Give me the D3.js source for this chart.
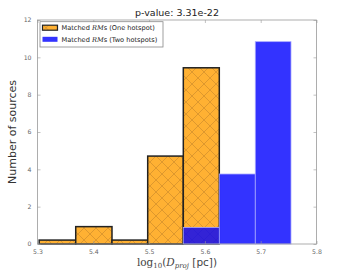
<!DOCTYPE html>
<html>
<head>
<meta charset="utf-8">
<script src="https://cdn.jsdelivr.net/npm/d3@7"></script>
<style>
body { margin: 0; background: #fff; }
text { font-family: "DejaVu Sans", sans-serif; }
</style>
</head>
<body>
<div id="chart"></div>
<script>
"use strict";

const W = 353, H = 271;
const M = { left: 37.5, right: 36.5, top: 20, bottom: 27 };

// histogram bins (log10 D_proj)
const binEdges = [5.303, 5.3685, 5.4335, 5.4975, 5.5613, 5.6258, 5.6903, 5.7543];
const oneHotspot = [0.21, 0.93, 0.21, 4.71, 9.44, 0, 0];
const twoHotspots = [0, 0, 0, 0, 0.89, 3.75, 10.84];
const xTicks = [5.3, 5.4, 5.5, 5.6, 5.7, 5.8];
const yTicks = [0, 2, 4, 6, 8, 10, 12];

const svg = d3.select("#chart").append("svg")
    .attr("width", W)
    .attr("height", H);

const defs = svg.append("defs");
const hatch = defs.append("pattern")
    .attr("id", "xhatch")
    .attr("patternUnits", "userSpaceOnUse")
    .attr("width", 12)
    .attr("height", 12);
hatch.append("rect").attr("width", 12).attr("height", 12).attr("fill", "#ffb133");
hatch.append("path")
    .attr("d", "M0,0L12,12M12,0L0,12M-6,6L0,12M6,-6L12,0M6,18L12,12M-6,6L0,0")
    .attr("stroke", "#c8882a")
    .attr("stroke-width", 0.6);

const x = d3.scaleLinear().domain([5.3, 5.8]).range([M.left, W - M.right]);
const y = d3.scaleLinear().domain([0, 12]).range([H - M.bottom, M.top]);

const bins = d3.range(oneHotspot.length).map(i => ({
    x0: binEdges[i], x1: binEdges[i + 1], a: oneHotspot[i], b: twoHotspots[i]
}));

svg.selectAll(".one").data(bins.filter(d => d.a > 0)).join("rect")
    .attr("class", "one")
    .attr("x", d => x(d.x0))
    .attr("width", d => x(d.x1) - x(d.x0))
    .attr("y", d => y(d.a))
    .attr("height", d => y(0) - y(d.a))
    .attr("fill", "url(#xhatch)")
    .attr("stroke", "#222")
    .attr("stroke-width", 1.5);

svg.selectAll(".two").data(bins.filter(d => d.b > 0)).join("rect")
    .attr("class", "two")
    .attr("x", d => x(d.x0))
    .attr("width", d => x(d.x1) - x(d.x0))
    .attr("y", d => y(d.b))
    .attr("height", d => y(0) - y(d.b))
    .attr("fill", "#0000ff")
    .attr("fill-opacity", 0.8)
    .attr("stroke", "#aaaaff")
    .attr("stroke-width", 0.8);

// frame
svg.append("rect")
    .attr("x", M.left).attr("y", M.top)
    .attr("width", W - M.left - M.right)
    .attr("height", H - M.top - M.bottom)
    .attr("fill", "none")
    .attr("stroke", "#999")
    .attr("stroke-width", 0.8);

function styleAxis(g) {
    g.select(".domain").remove();
    g.selectAll(".tick line").attr("stroke", "#999").attr("stroke-width", 0.6);
    g.selectAll(".tick text").attr("fill", "#666").attr("font-size", 6.2)
        .attr("font-family", "DejaVu Sans, sans-serif");
}

svg.append("g")
    .attr("transform", `translate(0,${H - M.bottom})`)
    .call(d3.axisBottom(x).tickValues(xTicks).tickFormat(d3.format(".1f")).tickSize(-3).tickPadding(6))
    .call(styleAxis);
svg.append("g")
    .attr("transform", `translate(0,${M.top})`)
    .call(d3.axisTop(x).tickValues(xTicks).tickFormat("").tickSize(-3))
    .call(styleAxis);
svg.append("g")
    .attr("transform", `translate(${M.left},0)`)
    .call(d3.axisLeft(y).tickValues(yTicks).tickSize(-3).tickPadding(6))
    .call(styleAxis);
svg.append("g")
    .attr("transform", `translate(${W - M.right},0)`)
    .call(d3.axisRight(y).tickValues(yTicks).tickFormat("").tickSize(-3))
    .call(styleAxis);

// title
svg.append("text")
    .attr("x", (M.left + W - M.right) / 2)
    .attr("y", 16)
    .attr("text-anchor", "middle")
    .attr("font-size", 9.5)
    .attr("fill", "#222")
    .text("p-value: 3.31e-22");

// y label
svg.append("text")
    .attr("transform", `translate(16,${(M.top + H - M.bottom) / 2}) rotate(-90)`)
    .attr("text-anchor", "middle")
    .attr("font-size", 11)
    .attr("fill", "#333")
    .text("Number of sources");

// x label
const xl = svg.append("text")
    .attr("x", (M.left + W - M.right) / 2)
    .attr("y", 266)
    .attr("text-anchor", "middle")
    .attr("fill", "#444")
    .attr("font-size", 10.5);
xl.append("tspan").attr("font-family", "DejaVu Serif, serif").text("log");
xl.append("tspan").attr("font-family", "DejaVu Serif, serif").attr("font-size", 7).attr("dy", 2).text("10");
xl.append("tspan").attr("font-family", "DejaVu Serif, serif").attr("dy", -2).text("(");
xl.append("tspan").attr("font-family", "DejaVu Serif, serif").attr("font-style", "italic").text("D");
xl.append("tspan").attr("font-family", "DejaVu Serif, serif").attr("font-style", "italic").attr("font-size", 7).attr("dy", 2).text("proj");
xl.append("tspan").attr("dy", -2).text(" [pc])");

// legend
const lg = svg.append("g").attr("transform", "translate(40,21.7)");
lg.append("rect")
    .attr("width", 123).attr("height", 25.3)
    .attr("fill", "#fff")
    .attr("stroke", "#888")
    .attr("stroke-width", 0.8);
const entries = [
    { label: "(One hotspot)", fill: "url(#xhatch)", stroke: "#222", sw: 1.2 },
    { label: "(Two hotspots)", fill: "#3333ff", stroke: "none", sw: 0 }
];
entries.forEach((e, i) => {
    const yy = 6 + i * 11.6;
    lg.append("rect")
        .attr("x", 2.5).attr("y", yy - 2.5)
        .attr("width", 15).attr("height", 5)
        .attr("fill", e.fill)
        .attr("stroke", e.stroke)
        .attr("stroke-width", e.sw);
    const t = lg.append("text")
        .attr("x", 21.5).attr("y", yy + 2.3)
        .attr("font-size", 6.6)
        .attr("fill", "#222");
    t.append("tspan").text("Matched ");
    t.append("tspan").attr("font-family", "DejaVu Serif, serif").attr("font-style", "italic").text("RM");
    t.append("tspan").text("s " + e.label);
});
</script>
</body>
</html>
